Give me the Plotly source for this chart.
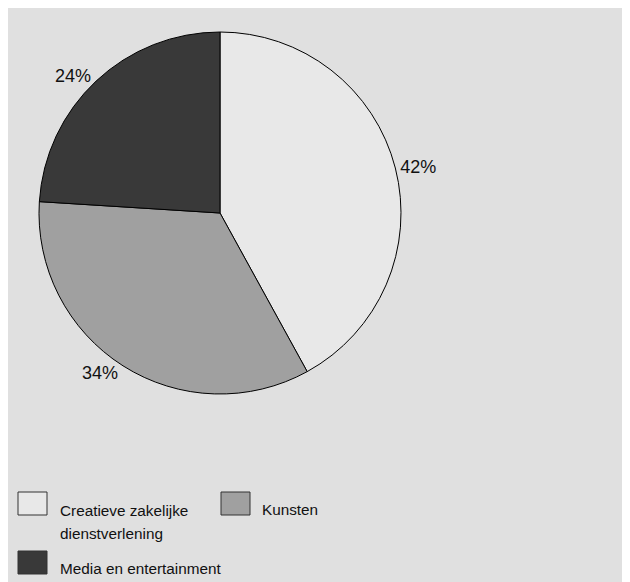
import plotly.graph_objects as go

categories = ["Creatieve zakelijke dienstverlening", "Kunsten", "Media en entertainment"]
legend_labels = ["Creatieve zakelijke<br>dienstverlening", "Kunsten", "Media en entertainment"]
values = [42, 34, 24]
colors = ["#e8e8e8", "#a0a0a0", "#393939"]

# page is rendered with an 8px body margin; figure fills the rest
W, H = 622, 574
OFF = 8
def px(x):
    return (x - OFF) / W
def py(y):
    return 1 - (y - OFF) / H

fig = go.Figure()
fig.add_trace(go.Pie(
    labels=categories,
    values=values,
    sort=False,
    direction="clockwise",
    rotation=0,
    marker=dict(colors=colors, line=dict(color="#000000", width=1)),
    textinfo="percent",
    textposition="outside",
    textfont=dict(size=18, color="#111111"),
    showlegend=False,
    hoverinfo="label+percent",
    domain=dict(x=[px(39), px(401)], y=[py(394), py(32)]),
))

shapes = []
annotations = []
# legend positions in page pixels (box left, box top, text x, first line center y)
legend_pos = [(18, 492, 58, 510), (221, 492, 260, 509), (18, 551, 58, 568)]
line_gap = 23
for (bx, by, tx, ty), lab, col in zip(legend_pos, legend_labels, colors):
    shapes.append(dict(type="rect", xref="paper", yref="paper",
                       x0=px(bx), x1=px(bx + 29), y0=py(by + 23), y1=py(by),
                       fillcolor=col, line=dict(color="#333333", width=1)))
    for i, line in enumerate(lab.split("<br>")):
        annotations.append(dict(text=line, xref="paper", yref="paper",
                                x=px(tx), y=py(ty + i * line_gap),
                                xanchor="left", yanchor="middle", align="left", showarrow=False,
                                font=dict(size=15.3, color="#111111")))

fig.update_layout(
    width=W, height=H,
    margin=dict(l=0, r=0, t=0, b=0),
    paper_bgcolor="#e0e0e0",
    font=dict(family="Liberation Sans, Arial, sans-serif"),
    shapes=shapes,
    annotations=annotations,
)
fig.write_html("out.html")
